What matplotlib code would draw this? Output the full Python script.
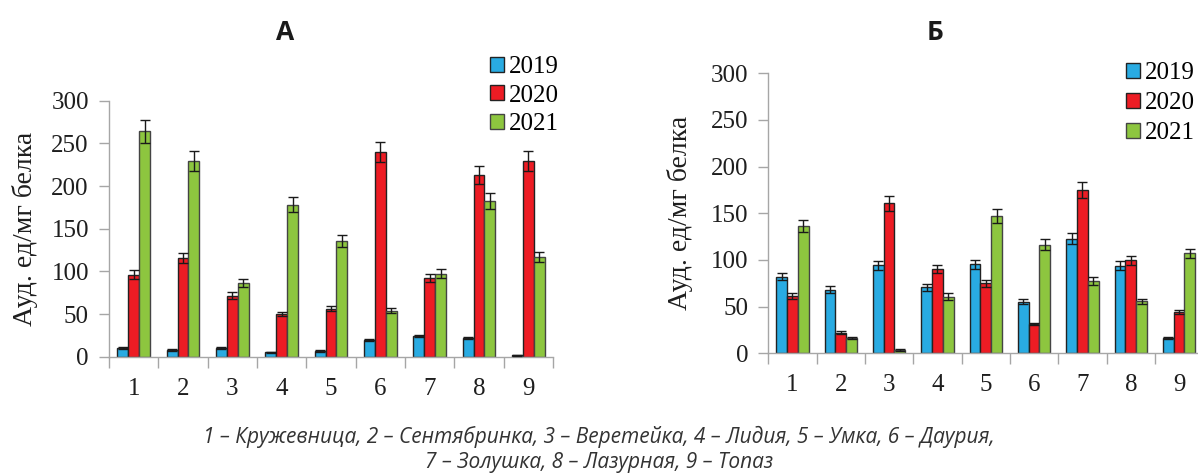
import numpy as np
import matplotlib
matplotlib.use("Agg")
import matplotlib.pyplot as plt
from matplotlib.patches import Patch

# Varieties (numbered on the x axis, named in the caption)
categories = ["1", "2", "3", "4", "5", "6", "7", "8", "9"]
years = ["2019", "2020", "2021"]

# Panel А: activity, arb. units per mg protein
a_2019 = [10, 7.5, 10, 5, 6.7, 19.6, 24.3, 22.3, 1.6]
a_2020 = [96, 116, 71.5, 50, 56, 240, 92, 212.6, 229.4]
a_2021 = [264, 229.4, 86, 178.2, 136, 54, 97.3, 183, 117.2]
a_err_2019 = [1, 1, 1, 0.7, 0.7, 1.2, 1.5, 1.2, 0.5]
a_err_2020 = [5.5, 6, 4, 2.5, 3, 11.5, 5, 10.5, 11.5]
a_err_2021 = [13, 12, 4.5, 9, 7, 3, 5, 9.4, 6]

# Panel Б
b_2019 = [82.1, 68.2, 94.3, 70.7, 95.4, 55.3, 122.9, 93.9, 16]
b_2020 = [61.4, 22.1, 160.7, 90, 75, 31.4, 175, 99.6, 43.9]
b_2021 = [136.1, 16.4, 3.6, 60.7, 146.8, 116.4, 77.5, 55.7, 107.1]
b_err_2019 = [4, 3.5, 5, 3.5, 5, 2.5, 6, 5, 1]
b_err_2020 = [3.5, 1.5, 8, 4.5, 4, 1.5, 8.5, 5, 2]
b_err_2021 = [6.5, 1, 0.7, 3.5, 7.5, 6, 4, 3, 5]

y_ticks = [0, 50, 100, 150, 200, 250, 300]
y_label = "Ауд. ед/мг белка"
caption_1 = "1 – Кружевница, 2 – Сентябринка, 3 – Веретейка, 4 – Лидия, 5 – Умка, 6 – Даурия,"
caption_2 = "7 – Золушка, 8 – Лазурная, 9 – Топаз"

colors = ["#29ABE2", "#ED1C24", "#8DC63F"]
edges = ["#222222", "#222222", "#444444"]
axis_gray = "#A6A6A6"
serif = ["Liberation Serif", "DejaVu Serif"]
text_col = "#1e1e1e"

W, H = 1198, 473
fig = plt.figure(figsize=(W / 100, H / 100), dpi=100)


def draw_panel(rect, series, errors, title, title_xy, legend_xy, spacing,
               ylabel_pad):
    ax = fig.add_axes(rect)
    x = np.arange(len(categories))
    bw = 0.222
    for k, (vals, errs) in enumerate(zip(series, errors)):
        ax.bar(x + (k - 1) * bw, vals, width=bw, color=colors[k],
               edgecolor=edges[k], linewidth=1.0, zorder=2)
        ax.errorbar(x + (k - 1) * bw, vals, yerr=errs, fmt="none",
                    ecolor="#1a1a1a", elinewidth=1.0, capsize=3.6,
                    capthick=1.0, zorder=3)
    ax.set_xlim(-0.5, len(categories) - 0.5)
    ax.set_ylim(0, 300)
    ax.set_yticks(y_ticks)
    ax.set_yticklabels([str(t) for t in y_ticks], fontfamily=serif,
                       fontsize=18, color=text_col)
    # category boundaries carry the tick marks, centres carry the labels
    ax.set_xticks(np.arange(len(categories) + 1) - 0.5)
    ax.set_xticklabels([])
    ax.set_xticks(x, minor=True)
    ax.set_xticklabels(categories, minor=True, fontfamily=serif,
                       fontsize=18, color=text_col)
    ax.tick_params(axis="x", which="major", length=8, width=1.0,
                   color=axis_gray, direction="out")
    ax.tick_params(axis="x", which="minor", length=0, pad=15)
    ax.tick_params(axis="y", length=7, width=1.0, color=axis_gray,
                   direction="out", pad=7.5)
    for s in ("top", "right"):
        ax.spines[s].set_visible(False)
    for s in ("left", "bottom"):
        ax.spines[s].set_color(axis_gray)
        ax.spines[s].set_linewidth(1.0)
    ax.set_ylabel(y_label, fontfamily=serif, fontsize=20, color=text_col,
                  labelpad=ylabel_pad)
    fig.text(title_xy[0] / W, 1 - title_xy[1] / H, title,
             fontfamily=["Open Sans", "DejaVu Sans"], fontweight="bold",
             fontsize=19, ha="center", va="center", color="#1a1a1a")
    handles = [Patch(facecolor=colors[k], edgecolor=edges[k], linewidth=1.0)
               for k in range(3)]
    ax.legend(handles, years, loc="upper left",
              bbox_to_anchor=(legend_xy[0] / W, 1 - legend_xy[1] / H),
              bbox_transform=fig.transFigure, frameon=False, borderpad=0,
              borderaxespad=0, handlelength=0.55, handleheight=0.55,
              handletextpad=0.2, labelspacing=spacing,
              prop={"family": serif, "size": 18})
    return ax


ax_a = draw_panel([109 / W, 1 - 356.7 / H, 444 / W, 256 / H],
                  [a_2019, a_2020, a_2021],
                  [a_err_2019, a_err_2020, a_err_2021],
                  "А", (285, 32), (490, 56), 0.26, 9.5)
ax_b = draw_panel([768.3 / W, 1 - 353.3 / H, 435 / W, 280 / H],
                  [b_2019, b_2020, b_2021],
                  [b_err_2019, b_err_2020, b_err_2021],
                  "Б", (935, 33), (1126, 62), 0.32, 13)

cap_font = ["Open Sans", "DejaVu Sans"]
fig.text(0.5, 1 - 437 / H, caption_1, ha="center", va="center",
         fontfamily=cap_font, style="italic", fontsize=15, color="#333333")
fig.text(0.5, 1 - 462 / H, caption_2, ha="center", va="center",
         fontfamily=cap_font, style="italic", fontsize=15, color="#333333")

fig.savefig("out.png", dpi=100)
